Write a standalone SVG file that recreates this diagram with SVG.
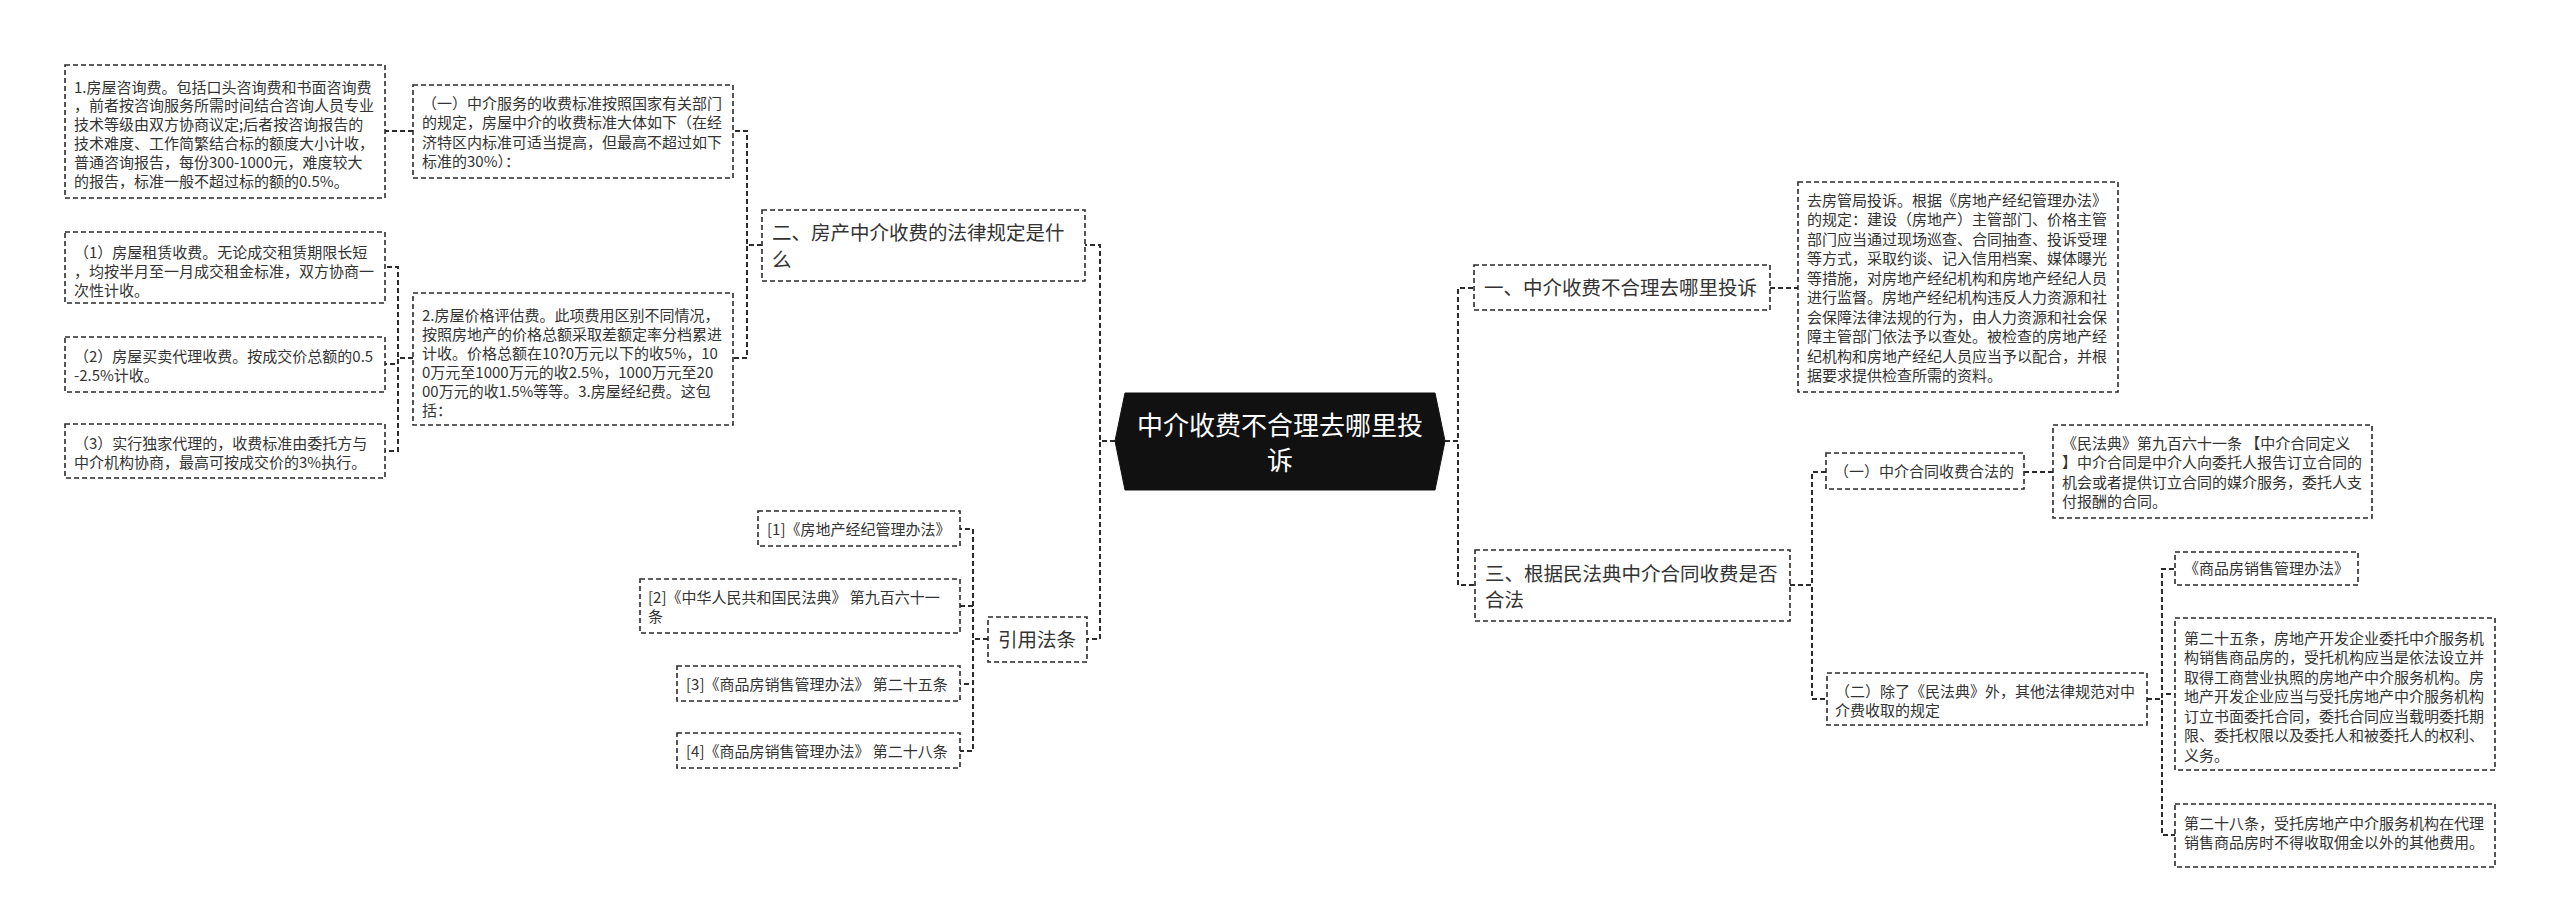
<svg xmlns="http://www.w3.org/2000/svg" width="2560" height="923" viewBox="0 0 2560 923">
<style>
.bg{fill:#fff}
.box{fill:#fff;stroke:#2b2b2b;stroke-width:1.6;stroke-dasharray:5 3}
.conn{fill:none;stroke:#2b2b2b;stroke-width:2;stroke-dasharray:5 3}
.t{font-family:"Noto Sans CJK SC","Noto Sans",sans-serif;font-size:15px;fill:#333}
.tl{font-family:"Noto Sans CJK SC","Noto Sans",sans-serif;font-size:19.5px;fill:#333}
.tc{font-family:"Noto Sans CJK SC","Noto Sans",sans-serif;font-size:26px;fill:#fff;text-anchor:middle}
.root{fill:#111;stroke:#111;stroke-width:1}
</style>
<rect class="bg" x="0" y="0" width="2560" height="923"/>
<g id="connectors">
<path class="conn" d="M1115 441 H1100 V245 H1085"/>
<path class="conn" d="M1115 441 H1100 V639 H1087"/>
<path class="conn" d="M762 245 H747 V131 H733"/>
<path class="conn" d="M762 245 H747 V358 H733"/>
<path class="conn" d="M413 131 H385"/>
<path class="conn" d="M413 358 H398 V267 H385"/>
<path class="conn" d="M413 358 H398 V364 H385"/>
<path class="conn" d="M413 358 H398 V451 H385"/>
<path class="conn" d="M988 639 H973 V529 H960"/>
<path class="conn" d="M988 639 H973 V606 H960"/>
<path class="conn" d="M988 639 H973 V684 H960"/>
<path class="conn" d="M988 639 H973 V751 H960"/>
<path class="conn" d="M1445 441 H1458 V288 H1474"/>
<path class="conn" d="M1445 441 H1458 V585 H1475"/>
<path class="conn" d="M1770 288 H1798"/>
<path class="conn" d="M1790 585 H1812 V472 H1826"/>
<path class="conn" d="M1790 585 H1812 V699 H1827"/>
<path class="conn" d="M2024 472 H2053"/>
<path class="conn" d="M2147 699 H2162 V569 H2175"/>
<path class="conn" d="M2147 699 H2162 V694 H2175"/>
<path class="conn" d="M2147 699 H2162 V835 H2175"/>
</g>
<g id="root">
<polygon class="root" points="1125,393 1435,393 1445,441 1435,490 1125,490 1115,441"/>
<text class="tc"><tspan x="1280" y="434.5">中介收费不合理去哪里投</tspan><tspan x="1280" y="469.5">诉</tspan></text>
</g>
<g id="n-er">
<rect class="box" x="762" y="210" width="323" height="71"/>
<text class="tl"><tspan x="772" y="240">二、房产中介收费的法律规定是什</tspan><tspan x="772" y="267">么</tspan></text>
</g>
<g id="n-yi-a">
<rect class="box" x="413" y="85" width="320" height="93"/>
<text class="t"><tspan x="422" y="108.5">（一）中介服务的收费标准按照国家有关部门</tspan><tspan x="422" y="128">的规定，房屋中介的收费标准大体如下（在经</tspan><tspan x="422" y="147.5">济特区内标准可适当提高，但最高不超过如下</tspan><tspan x="422" y="167">标准的30%）：</tspan></text>
</g>
<g id="n-fee1">
<rect class="box" x="65" y="65" width="320" height="133"/>
<text class="t"><tspan x="74" y="92.5">1.房屋咨询费。包括口头咨询费和书面咨询费</tspan><tspan x="74" y="111.3">，前者按咨询服务所需时间结合咨询人员专业</tspan><tspan x="74" y="130.1">技术等级由双方协商议定;后者按咨询报告的</tspan><tspan x="74" y="148.9">技术难度、工作简繁结合标的额度大小计收，</tspan><tspan x="74" y="167.7">普通咨询报告，每份300-1000元，难度较大</tspan><tspan x="74" y="186.5">的报告，标准一般不超过标的额的0.5%。</tspan></text>
</g>
<g id="n-fee2">
<rect class="box" x="413" y="293" width="320" height="132"/>
<text class="t"><tspan x="422" y="320.5">2.房屋价格评估费。此项费用区别不同情况，</tspan><tspan x="422" y="339.5">按照房地产的价格总额采取差额定率分档累进</tspan><tspan x="422" y="358.5">计收。价格总额在10?0万元以下的收5%，10</tspan><tspan x="422" y="377.5">0万元至1000万元的收2.5%，1000万元至20</tspan><tspan x="422" y="396.5">00万元的收1.5%等等。3.房屋经纪费。这包</tspan><tspan x="422" y="415.5">括：</tspan></text>
</g>
<g id="n-c1">
<rect class="box" x="65" y="232" width="320" height="71"/>
<text class="t"><tspan x="74" y="257.5">（1）房屋租赁收费。无论成交租赁期限长短</tspan><tspan x="74" y="276.5">，均按半月至一月成交租金标准，双方协商一</tspan><tspan x="74" y="295.5">次性计收。</tspan></text>
</g>
<g id="n-c2">
<rect class="box" x="65" y="337" width="320" height="55"/>
<text class="t"><tspan x="74" y="361.5">（2）房屋买卖代理收费。按成交价总额的0.5</tspan><tspan x="74" y="381">-2.5%计收。</tspan></text>
</g>
<g id="n-c3">
<rect class="box" x="65" y="424" width="320" height="54"/>
<text class="t"><tspan x="74" y="448.5">（3）实行独家代理的，收费标准由委托方与</tspan><tspan x="74" y="467.5">中介机构协商，最高可按成交价的3%执行。</tspan></text>
</g>
<g id="n-ref">
<rect class="box" x="988" y="617" width="99" height="45"/>
<text class="tl"><tspan x="998" y="646.5">引用法条</tspan></text>
</g>
<g id="n-r1">
<rect class="box" x="758" y="511" width="202" height="35"/>
<text class="t"><tspan x="767" y="534.5">[1]《房地产经纪管理办法》</tspan></text>
</g>
<g id="n-r2">
<rect class="box" x="640" y="579" width="320" height="54"/>
<text class="t"><tspan x="648" y="602.5">[2]《中华人民共和国民法典》 第九百六十一</tspan><tspan x="648" y="621.5">条</tspan></text>
</g>
<g id="n-r3">
<rect class="box" x="677" y="666" width="283" height="35"/>
<text class="t"><tspan x="686" y="689.5">[3]《商品房销售管理办法》 第二十五条</tspan></text>
</g>
<g id="n-r4">
<rect class="box" x="677" y="733" width="283" height="35"/>
<text class="t"><tspan x="686" y="756.5">[4]《商品房销售管理办法》 第二十八条</tspan></text>
</g>
<g id="n-one">
<rect class="box" x="1474" y="265" width="296" height="45"/>
<text class="tl"><tspan x="1484" y="295">一、中介收费不合理去哪里投诉</tspan></text>
</g>
<g id="n-complain">
<rect class="box" x="1798" y="182" width="320" height="210"/>
<text class="t"><tspan x="1807" y="205.5">去房管局投诉。根据《房地产经纪管理办法》</tspan><tspan x="1807" y="225">的规定：建设（房地产）主管部门、价格主管</tspan><tspan x="1807" y="244.5">部门应当通过现场巡查、合同抽查、投诉受理</tspan><tspan x="1807" y="264">等方式，采取约谈、记入信用档案、媒体曝光</tspan><tspan x="1807" y="283.5">等措施，对房地产经纪机构和房地产经纪人员</tspan><tspan x="1807" y="303">进行监督。房地产经纪机构违反人力资源和社</tspan><tspan x="1807" y="322.5">会保障法律法规的行为，由人力资源和社会保</tspan><tspan x="1807" y="342">障主管部门依法予以查处。被检查的房地产经</tspan><tspan x="1807" y="361.5">纪机构和房地产经纪人员应当予以配合，并根</tspan><tspan x="1807" y="381">据要求提供检查所需的资料。</tspan></text>
</g>
<g id="n-three">
<rect class="box" x="1475" y="550" width="315" height="71"/>
<text class="tl"><tspan x="1485" y="581">三、根据民法典中介合同收费是否</tspan><tspan x="1485" y="607">合法</tspan></text>
</g>
<g id="n-s1">
<rect class="box" x="1826" y="453" width="198" height="36"/>
<text class="t"><tspan x="1834" y="476.5">（一）中介合同收费合法的</tspan></text>
</g>
<g id="n-civil">
<rect class="box" x="2053" y="425" width="319" height="93"/>
<text class="t"><tspan x="2062" y="448.5">《民法典》第九百六十一条 【中介合同定义</tspan><tspan x="2062" y="468">】中介合同是中介人向委托人报告订立合同的</tspan><tspan x="2062" y="487.5">机会或者提供订立合同的媒介服务，委托人支</tspan><tspan x="2062" y="507">付报酬的合同。</tspan></text>
</g>
<g id="n-s2">
<rect class="box" x="1827" y="673" width="320" height="52"/>
<text class="t"><tspan x="1835" y="696.5">（二）除了《民法典》外，其他法律规范对中</tspan><tspan x="1835" y="716">介费收取的规定</tspan></text>
</g>
<g id="n-g1">
<rect class="box" x="2175" y="552" width="183" height="33"/>
<text class="t"><tspan x="2184" y="574">《商品房销售管理办法》</tspan></text>
</g>
<g id="n-g2">
<rect class="box" x="2175" y="618" width="320" height="152"/>
<text class="t"><tspan x="2184" y="643.5">第二十五条，房地产开发企业委托中介服务机</tspan><tspan x="2184" y="663">构销售商品房的，受托机构应当是依法设立并</tspan><tspan x="2184" y="682.5">取得工商营业执照的房地产中介服务机构。房</tspan><tspan x="2184" y="702">地产开发企业应当与受托房地产中介服务机构</tspan><tspan x="2184" y="721.5">订立书面委托合同，委托合同应当载明委托期</tspan><tspan x="2184" y="741">限、委托权限以及委托人和被委托人的权利、</tspan><tspan x="2184" y="760.5">义务。</tspan></text>
</g>
<g id="n-g3">
<rect class="box" x="2175" y="804" width="320" height="63"/>
<text class="t"><tspan x="2184" y="828.5">第二十八条，受托房地产中介服务机构在代理</tspan><tspan x="2184" y="848">销售商品房时不得收取佣金以外的其他费用。</tspan></text>
</g>
</svg>
